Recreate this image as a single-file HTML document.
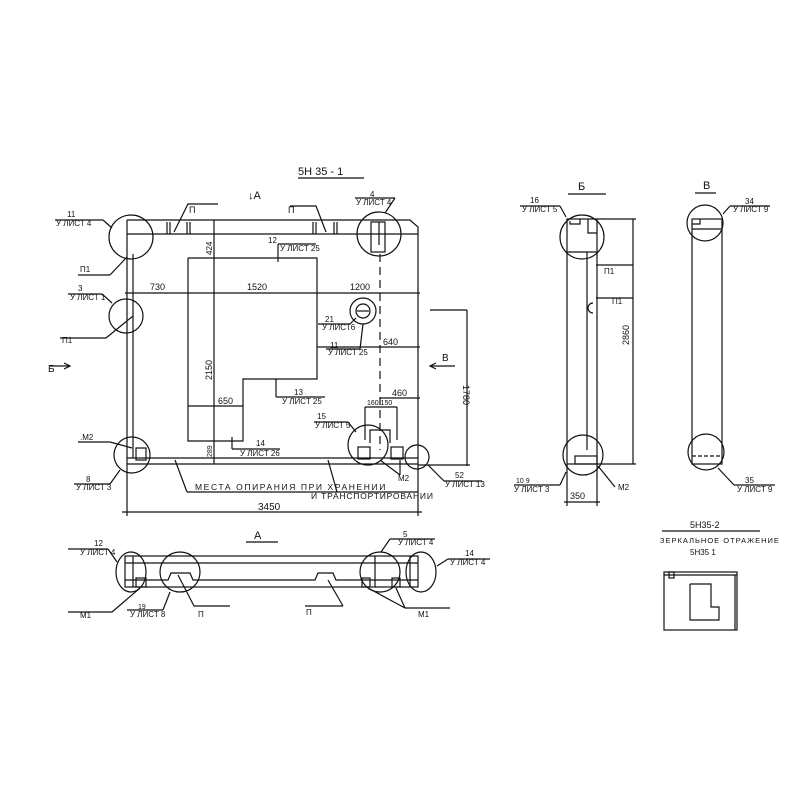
<!DOCTYPE html>
<html><head><meta charset="utf-8"><style>
body{margin:0;background:#fff}
svg{display:block}
text{font-family:"Liberation Sans",sans-serif;fill:#111}
</style></head><body>
<svg width="800" height="800" viewBox="0 0 800 800" xmlns="http://www.w3.org/2000/svg" stroke="#111" fill="none" stroke-width="1.2">
<!-- Main plan -->
<text x="298" y="175" font-size="11" stroke="none">5Н 35 - 1</text>
<line x1="298" y1="178" x2="364" y2="178"/>
<text x="248" y="199" font-size="11" stroke="none">↓А</text>
<polyline points="127,220 410,220 418,227 418,464"/>
<line x1="127" y1="234" x2="418" y2="234"/>
<line x1="127" y1="220" x2="127" y2="464"/>
<line x1="133" y1="254" x2="133" y2="458"/>
<line x1="127" y1="458" x2="418" y2="458"/>
<line x1="127" y1="464" x2="418" y2="464"/>
<line x1="167" y1="222" x2="167" y2="234"/><line x1="170" y1="222" x2="170" y2="234"/>
<line x1="187" y1="222" x2="187" y2="234"/><line x1="190" y1="222" x2="190" y2="234"/>
<line x1="313" y1="222" x2="313" y2="234"/><line x1="316" y1="222" x2="316" y2="234"/>
<line x1="334" y1="222" x2="334" y2="234"/><line x1="337" y1="222" x2="337" y2="234"/>
<polyline points="174,232 188,204 218,204"/><text x="189" y="213" font-size="9" stroke="none">П</text>
<polyline points="326,232 316,206 290,206"/><text x="288" y="213" font-size="9" stroke="none">П</text>
<circle cx="131" cy="237" r="22"/>
<circle cx="379" cy="234" r="22"/>
<circle cx="126" cy="316" r="17"/>
<circle cx="132" cy="455" r="18"/>
<circle cx="368" cy="445" r="20"/>
<circle cx="417" cy="457" r="12"/>
<circle cx="363" cy="311" r="13"/><circle cx="363" cy="311" r="7"/><line x1="357" y1="311" x2="369" y2="311"/>
<rect x="371" y="222" width="14" height="30"/><line x1="379" y1="222" x2="379" y2="245"/>
<rect x="136" y="448" width="10" height="12"/><rect x="358" y="447" width="12" height="12"/><rect x="391" y="447" width="12" height="12"/>
<polyline points="370,443 370,430 390,430 390,443"/>
<polyline points="188,258 317,258 317,379 243,379 243,441 188,441 188,258"/>
<line x1="214" y1="220" x2="214" y2="464"/>
<line x1="125" y1="293" x2="420" y2="293"/>
<text x="150" y="290" font-size="9" stroke="none">730</text>
<text x="247" y="290" font-size="9" stroke="none">1520</text>
<text x="350" y="290" font-size="9" stroke="none">1200</text>
<line x1="317" y1="347" x2="420" y2="347"/><text x="383" y="345" font-size="9" stroke="none">640</text>
<line x1="188" y1="406" x2="243" y2="406"/><text x="218" y="404" font-size="9" stroke="none">650</text>
<line x1="380" y1="254" x2="380" y2="450" stroke-dasharray="8,5"/>
<line x1="380" y1="398" x2="420" y2="398"/><text x="392" y="396" font-size="9" stroke="none">460</text>
<text x="367" y="405" font-size="7" stroke="none">160 150</text>
<line x1="365" y1="407" x2="397" y2="407"/>
<line x1="365" y1="407" x2="365" y2="440"/><line x1="397" y1="407" x2="397" y2="440"/>
<text transform="translate(212,380) rotate(-90)" font-size="9" stroke="none">2150</text>
<text transform="translate(212,255) rotate(-90)" font-size="8" stroke="none">424</text>
<text transform="translate(212,457) rotate(-90)" font-size="7" stroke="none">289</text>
<line x1="430" y1="310" x2="467" y2="310"/><line x1="467" y1="310" x2="467" y2="466"/><line x1="418" y1="465" x2="470" y2="465"/>
<text transform="translate(463,385) rotate(90)" font-size="9" stroke="none">1780</text>
<line x1="127" y1="464" x2="127" y2="516"/><line x1="418" y1="464" x2="418" y2="516"/>
<line x1="122" y1="512" x2="422" y2="512"/>
<text x="258" y="510" font-size="10" stroke="none">3450</text>
<text x="67" y="217" font-size="8" stroke="none">11</text><text x="56" y="226" font-size="8" stroke="none">У ЛИСТ 4</text><line x1="55" y1="220" x2="103" y2="220"/><line x1="103" y1="220" x2="112" y2="228"/>
<text x="80" y="272" font-size="8" stroke="none">П1</text><line x1="78" y1="275" x2="110" y2="275"/><line x1="110" y1="275" x2="127" y2="257"/>
<text x="78" y="291" font-size="8" stroke="none">3</text><text x="70" y="300" font-size="8" stroke="none">У ЛИСТ 1</text><line x1="68" y1="294" x2="102" y2="294"/><line x1="102" y1="294" x2="112" y2="303"/>
<text x="62" y="343" font-size="8" stroke="none">П1</text><line x1="60" y1="338" x2="106" y2="338"/><line x1="106" y1="338" x2="133" y2="316"/>
<text x="48" y="372" font-size="10" stroke="none">Б</text><line x1="50" y1="366" x2="70" y2="366"/><path d="M64,363 L70,366 L64,369" />
<text x="442" y="361" font-size="10" stroke="none">В</text><line x1="430" y1="366" x2="455" y2="366"/><path d="M436,363 L430,366 L436,369"/>
<text x="268" y="243" font-size="8" stroke="none">12</text><text x="280" y="251" font-size="8" stroke="none">У ЛИСТ 25</text><line x1="278" y1="244" x2="316" y2="244"/><line x1="278" y1="244" x2="278" y2="262"/>
<text x="370" y="197" font-size="8" stroke="none">4</text><text x="356" y="205" font-size="8" stroke="none">У ЛИСТ 4</text><line x1="355" y1="198" x2="395" y2="198"/><line x1="395" y1="198" x2="385" y2="213"/>
<text x="325" y="322" font-size="8" stroke="none">21</text><text x="322" y="330" font-size="8" stroke="none">У ЛИСТ6</text><line x1="318" y1="324" x2="350" y2="324"/><line x1="350" y1="324" x2="356" y2="318"/>
<text x="330" y="348" font-size="8" stroke="none">11</text><text x="328" y="355" font-size="8" stroke="none">У ЛИСТ 25</text><line x1="326" y1="349" x2="360" y2="349"/><line x1="360" y1="349" x2="363" y2="324"/>
<text x="294" y="395" font-size="8" stroke="none">13</text><text x="282" y="404" font-size="8" stroke="none">У ЛИСТ 25</text><line x1="276" y1="397" x2="325" y2="397"/><line x1="276" y1="379" x2="276" y2="397"/>
<text x="317" y="419" font-size="8" stroke="none">15</text><text x="315" y="428" font-size="8" stroke="none">У ЛИСТ 5</text><line x1="314" y1="422" x2="348" y2="422"/><line x1="348" y1="422" x2="356" y2="432"/>
<text x="256" y="446" font-size="8" stroke="none">14</text><text x="240" y="456" font-size="8" stroke="none">У ЛИСТ 26</text><line x1="232" y1="449" x2="280" y2="449"/><line x1="232" y1="437" x2="232" y2="449"/>
<text x="80" y="440" font-size="8" stroke="none">.М2</text><line x1="78" y1="442" x2="110" y2="442"/><line x1="110" y1="442" x2="132" y2="448"/>
<text x="86" y="482" font-size="8" stroke="none">8</text><text x="76" y="490" font-size="8" stroke="none">У ЛИСТ 3</text><line x1="74" y1="484" x2="110" y2="484"/><line x1="110" y1="484" x2="120" y2="470"/>
<text x="398" y="481" font-size="8" stroke="none">М2</text><line x1="380" y1="460" x2="400" y2="475"/><line x1="400" y1="460" x2="400" y2="475"/>
<text x="455" y="478" font-size="8" stroke="none">52</text><text x="445" y="487" font-size="8" stroke="none">У ЛИСТ 13</text><line x1="444" y1="481" x2="482" y2="481"/><line x1="444" y1="481" x2="428" y2="465"/>
<text x="195" y="490" font-size="8.5" letter-spacing="1.6" stroke="none">МЕСТА ОПИРАНИЯ  ПРИ  ХРАНЕНИИ</text>
<text x="311" y="499" font-size="8.5" letter-spacing="0.8" stroke="none">И ТРАНСПОРТИРОВАНИИ</text>
<line x1="187" y1="492" x2="418" y2="492"/><line x1="187" y1="492" x2="175" y2="460"/><line x1="337" y1="492" x2="328" y2="460"/>
<!-- View Б -->
<text x="578" y="190" font-size="11" stroke="none">Б</text><line x1="568" y1="194" x2="606" y2="194"/>
<rect x="567" y="219" width="30" height="245"/><line x1="587" y1="252" x2="587" y2="450"/>
<line x1="567" y1="252" x2="597" y2="252"/>
<polyline points="570,221 570,224 580,224 580,219"/><polyline points="588,219 588,233 597,233"/>
<rect x="575" y="456" width="22" height="8"/>
<circle cx="582" cy="237" r="22"/><circle cx="583" cy="455" r="20"/>
<path d="M593,303 A5,5 0 0 0 593,313"/>
<line x1="597" y1="219" x2="636" y2="219"/><line x1="633" y1="219" x2="633" y2="464"/><line x1="597" y1="464" x2="636" y2="464"/>
<text transform="translate(629,345) rotate(-90)" font-size="9" stroke="none">2860</text>
<line x1="567" y1="464" x2="567" y2="506"/><line x1="597" y1="464" x2="597" y2="506"/><line x1="564" y1="502" x2="600" y2="502"/>
<text x="570" y="499" font-size="9" stroke="none">350</text>
<text x="530" y="203" font-size="8" stroke="none">16</text><text x="522" y="212" font-size="8" stroke="none">У ЛИСТ 5</text><line x1="520" y1="206" x2="560" y2="206"/><line x1="560" y1="206" x2="566" y2="217"/>
<text x="604" y="274" font-size="8" stroke="none">П1</text><line x1="596" y1="265" x2="633" y2="265"/>
<text x="612" y="304" font-size="8" stroke="none">П1</text><line x1="596" y1="298" x2="633" y2="298"/>
<text x="516" y="483" font-size="7" stroke="none">10 9</text><text x="514" y="492" font-size="8" stroke="none">У ЛИСТ 3</text><line x1="514" y1="485" x2="560" y2="485"/><line x1="560" y1="485" x2="566" y2="472"/>
<text x="618" y="490" font-size="8" stroke="none">М2</text><line x1="615" y1="487" x2="598" y2="466"/>
<!-- View В -->
<text x="703" y="189" font-size="11" stroke="none">В</text><line x1="695" y1="193" x2="716" y2="193"/>
<rect x="692" y="219" width="30" height="245"/>
<polyline points="692,224 700,224 700,219"/><line x1="692" y1="229" x2="722" y2="229"/>
<line x1="692" y1="456" x2="720" y2="456" stroke-dasharray="4,2"/>
<circle cx="705" cy="223" r="18"/><circle cx="706" cy="452" r="18"/>
<text x="745" y="204" font-size="8" stroke="none">34</text><text x="733" y="212" font-size="8" stroke="none">У ЛИСТ 9</text><line x1="730" y1="206" x2="770" y2="206"/><line x1="730" y1="206" x2="723" y2="214"/>
<text x="745" y="483" font-size="8" stroke="none">35</text><text x="737" y="492" font-size="8" stroke="none">У ЛИСТ 9</text><line x1="734" y1="485" x2="775" y2="485"/><line x1="734" y1="485" x2="718" y2="468"/>
<!-- View А -->
<text x="254" y="539" font-size="11" stroke="none">А</text><line x1="246" y1="542" x2="278" y2="542"/>
<rect x="125" y="556" width="293" height="31"/>
<line x1="125" y1="563" x2="418" y2="563"/>
<polyline points="125,580 168,580 171,573 190,573 193,580 315,580 318,573 333,573 336,580 418,580"/>
<line x1="133" y1="556" x2="133" y2="587"/><line x1="375" y1="556" x2="375" y2="587"/><line x1="410" y1="556" x2="410" y2="587"/>
<rect x="136" y="578" width="10" height="9"/><rect x="362" y="578" width="8" height="9"/><rect x="392" y="578" width="8" height="9"/>
<ellipse cx="131" cy="572" rx="15" ry="20"/><ellipse cx="180" cy="572" rx="20" ry="20"/><ellipse cx="380" cy="572" rx="20" ry="20"/><ellipse cx="421" cy="572" rx="15" ry="20"/>
<text x="94" y="546" font-size="8" stroke="none">12</text><text x="80" y="555" font-size="8" stroke="none">У ЛИСТ 4</text><line x1="68" y1="549" x2="108" y2="549"/><line x1="108" y1="549" x2="117" y2="562"/>
<text x="403" y="537" font-size="8" stroke="none">5</text><text x="398" y="545" font-size="8" stroke="none">У ЛИСТ 4</text><line x1="390" y1="539" x2="435" y2="539"/><line x1="390" y1="539" x2="381" y2="552"/>
<text x="465" y="556" font-size="8" stroke="none">14</text><text x="450" y="565" font-size="8" stroke="none">У ЛИСТ 4</text><line x1="448" y1="559" x2="490" y2="559"/><line x1="448" y1="559" x2="437" y2="566"/>
<text x="80" y="618" font-size="8" stroke="none">М1</text><line x1="68" y1="612" x2="112" y2="612"/><line x1="112" y1="612" x2="140" y2="588"/>
<text x="138" y="609" font-size="7" stroke="none">19</text><text x="130" y="617" font-size="8" stroke="none">У ЛИСТ 8</text><line x1="127" y1="610" x2="163" y2="610"/><line x1="163" y1="610" x2="170" y2="592"/>
<text x="198" y="617" font-size="8" stroke="none">П</text><line x1="194" y1="606" x2="230" y2="606"/><line x1="194" y1="606" x2="178" y2="575"/>
<text x="306" y="615" font-size="8" stroke="none">П</text><line x1="305" y1="606" x2="343" y2="606"/><line x1="343" y1="606" x2="328" y2="580"/>
<text x="418" y="617" font-size="8" stroke="none">М1</text><line x1="405" y1="608" x2="450" y2="608"/><line x1="405" y1="608" x2="368" y2="588"/><line x1="405" y1="608" x2="396" y2="588"/>
<!-- 5Н35-2 -->
<text x="690" y="528" font-size="9" stroke="none">5Н35-2</text><line x1="662" y1="531" x2="760" y2="531"/>
<text x="660" y="543" font-size="7.5" letter-spacing="1" stroke="none">ЗЕРКАЛЬНОЕ ОТРАЖЕНИЕ</text>
<text x="690" y="555" font-size="8" stroke="none">5Н35 1</text>
<rect x="664" y="572" width="73" height="58"/>
<polyline points="664,575 737,575"/><line x1="735" y1="575" x2="735" y2="630"/><rect x="669" y="572" width="5" height="6"/>
<polyline points="690,584 711,584 711,607 719,607 719,620 690,620 690,584"/>
</svg>
</body></html>
